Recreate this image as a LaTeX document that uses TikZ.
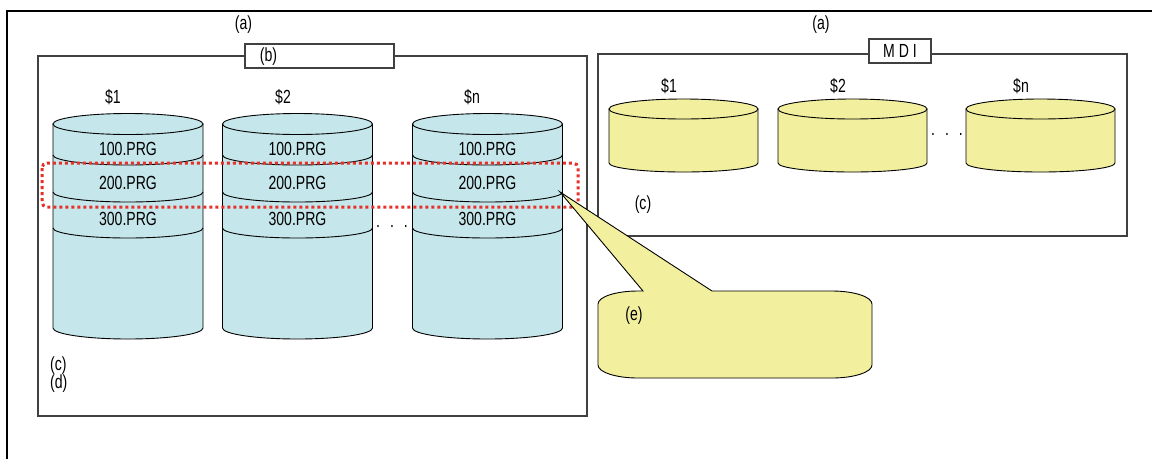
\documentclass[tikz,border=0pt]{standalone}
\usepackage{fontspec}
\setmainfont[FakeStretch=0.74]{Liberation Sans}
\definecolor{cylblue}{HTML}{C5E6EA}
\definecolor{cylyel}{HTML}{F2F09E}
\definecolor{dotred}{HTML}{E8302A}
\definecolor{boxgray}{HTML}{404040}
\begin{document}
\begin{tikzpicture}[x=1pt,y=-1pt,
  every node/.style={font=\fontsize{19}{21}\selectfont, inner sep=0pt},
  frameline/.style={draw=boxgray, line width=1.3pt},
  cylline/.style={draw=black, line width=0.9pt},
  tagbox/.style={frameline, fill=white},
  reddots/.style={draw=dotred, line width=3pt, dash pattern=on 3pt off 3pt, rounded corners=5pt},
  callout/.style={draw=black, line width=0.9pt, fill=cylyel}]
\useasboundingbox (0,0) rectangle (1152,459);
% outer frame
\coordinate (ofbl) at (7,459);
\coordinate (oftl) at (7,11);
\coordinate (oftr) at (1152,11);
\draw[black, line width=2.2pt] (ofbl) -- (oftl) -- (oftr);
\node (a1) at (243.5,25) {(a)};
\node (a2) at (821,25) {(a)};
% left box
\draw[frameline] (38,56) rectangle (587,416);
\filldraw[tagbox] (245,44) rectangle (394,68);
\node (lb) at (268.5,56.5) {(b)};
% blue cylinders
\foreach \cx/\nm/\lab/\lx in {128/c1/\$1/113, 297.5/c2/\$2/283, 487.5/cn/\$n/472}{
  \filldraw[cylline, fill=cylblue] (\cx-75,124) -- (\cx-75,328)
     arc[start angle=180, end angle=0, x radius=75, y radius=11] -- (\cx+75,124) -- cycle;
  \filldraw[cylline, fill=cylblue] (\cx,124) ellipse[x radius=75, y radius=10.5];
  \foreach \yd in {155,192,228}{
    \draw[cylline] (\cx-75,\yd) arc[start angle=180, end angle=0, x radius=75, y radius=10];
  }
  \node (\nm-lab) at (\lx,97) {\lab};
  \node (\nm-p1) at (\cx,149) {100.PRG};
  \node (\nm-p2) at (\cx,183) {200.PRG};
  \node (\nm-p3) at (\cx,219) {300.PRG};
}
\node (ldots) at (392,226) {.\hspace{10pt}.\hspace{10pt}.};
\node[anchor=west] (lc) at (50,366) {(c)};
\node[anchor=west] (ld) at (50,384) {(d)};
% red dotted selection
\draw[reddots] (42,163) rectangle (578,207);
% right box
\draw[frameline] (598,54) rectangle (1127,236);
\filldraw[tagbox] (869,39) rectangle (931,63);
\node (mdi) at (900,51) {M D I};
\foreach \cx/\nm/\lab/\lx in {683.5/y1/\$1/669, 852.5/y2/\$2/838, 1040.5/yn/\$n/1021}{
  \filldraw[cylline, fill=cylyel] (\cx-74.5,109) -- (\cx-74.5,163)
     arc[start angle=180, end angle=0, x radius=74.5, y radius=9] -- (\cx+74.5,109) -- cycle;
  \filldraw[cylline, fill=cylyel] (\cx,109) ellipse[x radius=74.5, y radius=10];
  \node (\nm-lab) at (\lx,86) {\lab};
}
\node (rdots) at (947,134) {.\hspace{10pt}.\hspace{10pt}.};
\node (rc) at (643,204.5) {(c)};
% callout
\coordinate (tip) at (560,192);
\filldraw[callout] (643,291) -- (tip) -- (712,291) -- (832,291)
   arc[start angle=-90, end angle=0, x radius=40, y radius=13] -- (872,365)
   arc[start angle=0, end angle=90, x radius=40, y radius=13] -- (638,378)
   arc[start angle=90, end angle=180, x radius=40, y radius=13] -- (598,304)
   arc[start angle=180, end angle=270, x radius=40, y radius=13] -- cycle;
\node (ce) at (634,316) {(e)};
\end{tikzpicture}
\end{document}
